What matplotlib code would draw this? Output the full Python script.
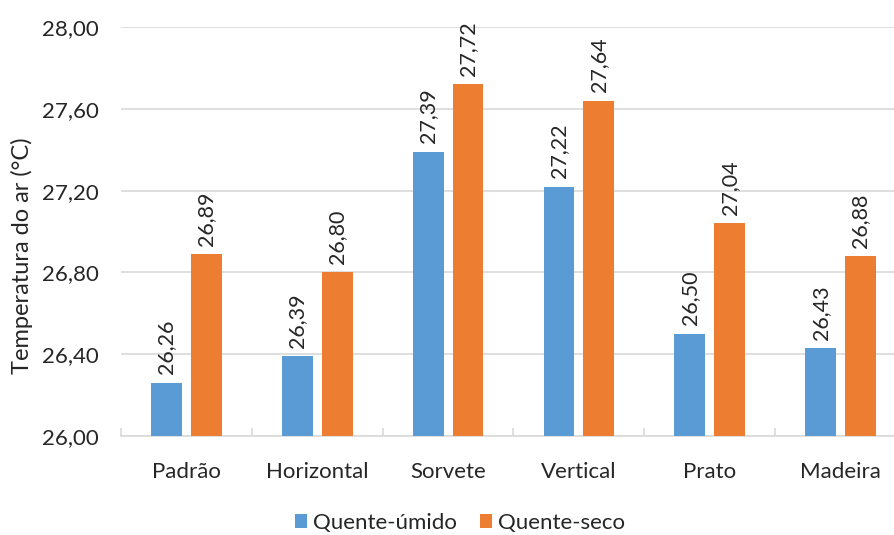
import numpy as np
import matplotlib
matplotlib.use('Agg')
import matplotlib.pyplot as plt
from matplotlib.ticker import FixedLocator, FuncFormatter

#------------------------------------------------------------------------------
categories  = ['Padrão', 'Horizontal', 'Sorvete', 'Vertical', 'Prato', 'Madeira']
quente_umido = [26.26, 26.39, 27.39, 27.22, 26.50, 26.43]
quente_seco  = [26.89, 26.80, 27.72, 27.64, 27.04, 26.88]
series_names = ['Quente-úmido', 'Quente-seco']
y_ticks = [26.0, 26.4, 26.8, 27.2, 27.6, 28.0]

BLUE   = '#5B9BD5'
ORANGE = '#ED7D31'
TEXT   = '#262626'
GRID   = '#D9D9D9'

plt.rcParams['font.family'] = ['Lato', 'DejaVu Sans']

def br(v):
  return '{:.2f}'.format(v).replace('.', ',')

#------------------------------------------------------------------------------
def main():
  fig = plt.figure(figsize=(8.94, 5.35), dpi=100)
  # axes runs past the right edge like the cropped original
  ax = fig.add_axes([121/894, 1-436/535, 785/894, 409/535])

  x = np.arange(len(categories))
  w = 0.235
  off = 0.152
  b1 = ax.bar(x - off, np.array(quente_umido) - 26, w, bottom=26, color=BLUE, label=series_names[0], zorder=3)
  b2 = ax.bar(x + off, np.array(quente_seco) - 26, w, bottom=26, color=ORANGE, label=series_names[1], zorder=3)

  for bars, vals in ((b1, quente_umido), (b2, quente_seco)):
    for rect, v in zip(bars, vals):
      ax.annotate(br(v), (rect.get_x() + rect.get_width()/2, v), xytext=(0, 6),
                  textcoords='offset points', ha='center', va='bottom',
                  rotation=90, fontsize=15.5, color=TEXT)

  ax.set_xlim(-0.5, len(categories) - 0.5)
  ax.set_ylim(26, 28)
  ax.yaxis.set_major_locator(FixedLocator(y_ticks))
  ax.yaxis.set_major_formatter(FuncFormatter(lambda v, p: br(v)))
  ax.grid(axis='y', color=GRID, linewidth=1.2, zorder=0)
  ax.tick_params(axis='y', length=0, labelsize=16, labelcolor=TEXT, pad=16)

  ax.set_xticks(x)
  ax.set_xticklabels(categories)
  ax.tick_params(axis='x', length=0, labelsize=16, labelcolor=TEXT, pad=19)
  ax.set_xticks(np.arange(len(categories) + 1) - 0.5, minor=True)
  ax.tick_params(axis='x', which='minor', direction='in', length=6, color=GRID, width=1.2)

  for s in ['top', 'right', 'left']:
    ax.spines[s].set_visible(False)
  ax.spines['bottom'].set_color(GRID)
  ax.spines['bottom'].set_linewidth(1.2)

  ax.set_ylabel('Temperatura do ar (°C)', fontsize=17, color=TEXT)
  ax.yaxis.set_label_coords(-88/785, 0.44)

  fig.legend(handles=[b1, b2], labels=series_names, loc='center', bbox_to_anchor=(460/894, 1-523/535),
             ncol=2, frameon=False, fontsize=16, handlelength=0.55, handleheight=0.55,
             handletextpad=0.3, columnspacing=1.0, labelcolor=TEXT)

  fig.savefig('out.png', dpi=100)

#------------------------------------------------------------------------------
if __name__ == '__main__':
  main()
